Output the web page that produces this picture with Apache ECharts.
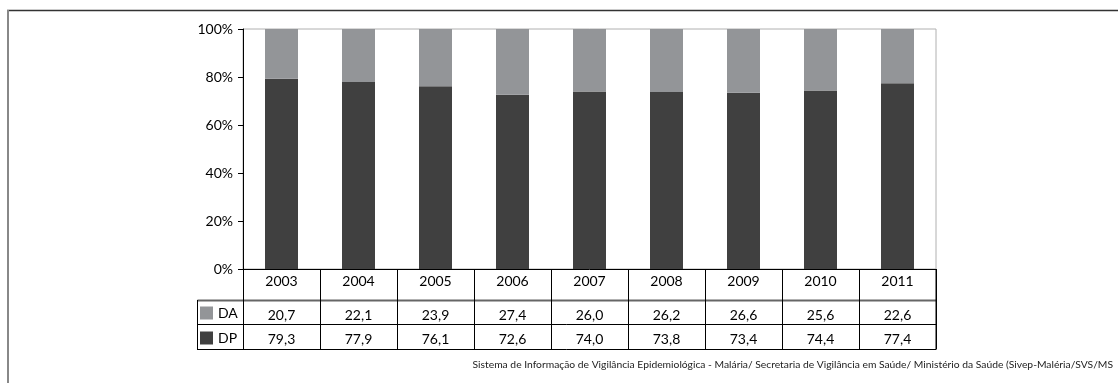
<!DOCTYPE html>
<html>
<head>
<meta charset="utf-8">
<script src="https://cdn.jsdelivr.net/npm/echarts@6/dist/echarts.min.js"></script>
<style>
html,body{margin:0;padding:0;background:#fff;}
#c{width:1118px;height:383px;}
</style>
</head>
<body>
<div id="c"></div>
<script>
var years = ['2003','2004','2005','2006','2007','2008','2009','2010','2011'];
var daValues = [20.7, 22.1, 23.9, 27.4, 26.0, 26.2, 26.6, 25.6, 22.6];
var dpValues = [79.3, 77.9, 76.1, 72.6, 74.0, 73.8, 73.4, 74.4, 77.4];
var yTicks = [0, 20, 40, 60, 80, 100];
var sourceText = 'Sistema de Informação de Vigilância Epidemiológica - Malária/ Secretaria de Vigilância em Saúde/ Ministério da Saúde (Sivep-Maléria/SVS/MS';

var FONT = 'Lato, "Open Sans", sans-serif';
function fmt(v){ return v.toFixed(1).replace('.', ','); }

var chart = echarts.init(document.getElementById('c'), null, {renderer:'canvas'});

function tableAxis(labels, offset, tickLen, margin){
  return {
    type:'category', data: labels, position:'bottom', offset: offset,
    axisLine:{show:false},
    axisTick:{show:true, interval:0, length:tickLen, lineStyle:{color:'#000', width:1}},
    axisLabel:{interval:0, margin:margin, fontFamily:FONT, fontSize:14, color:'#000'},
    splitLine:{show:false}
  };
}

var L = 197.5, R = 936, TOP = 29, Y0 = 269;
chart.setOption({
  animation:false,
  backgroundColor:'#fff',
  title:{
    text: sourceText, right: 5, top: 360, padding:0,
    textStyle:{fontFamily:FONT, fontSize:10.3, fontWeight:'normal', color:'#222'}
  },
  legend:{
    data:['DA','DP'], orient:'vertical', left:200, top:306, itemGap:11, padding:0,
    itemWidth:13, itemHeight:13, icon:'rect', selectedMode:false,
    textStyle:{fontFamily:FONT, fontSize:14, color:'#000'}, itemStyle:{borderWidth:0}
  },
  grid:{left:243, right:1118-R, top:TOP, bottom:383-Y0, show:true, borderColor:'#b0b0b0', borderWidth:1},
  xAxis:[
    {
      type:'category', data: years, position:'bottom',
      axisLine:{show:true, lineStyle:{color:'#000', width:1}},
      axisTick:{show:true, interval:0, length:31, lineStyle:{color:'#000', width:1}},
      axisLabel:{interval:0, margin:5, fontFamily:FONT, fontSize:14, color:'#000'}
    },
    tableAxis(daValues.map(fmt), 31, 24, 8),
    tableAxis(dpValues.map(fmt), 55, 25, 8)
  ],
  yAxis:{
    type:'value', min:0, max:100, interval:20,
    axisLine:{show:true, lineStyle:{color:'#000', width:1}},
    axisTick:{show:true, length:5, lineStyle:{color:'#000'}},
    axisLabel:{margin:10, fontFamily:FONT, fontSize:14, color:'#000', formatter:function(v){ return yTicks.indexOf(v) >= 0 ? v + '%' : ''; }},
    splitLine:{show:false}
  },
  series:[
    {name:'DP', type:'bar', stack:'a', data:dpValues, barWidth:33, itemStyle:{color:'#404040'}},
    {name:'DA', type:'bar', stack:'a', data:daValues, barWidth:33, itemStyle:{color:'#939598'}}
  ],
  graphic:[
    {type:'line', shape:{x1:7, y1:10.5, x2:1118, y2:10.5}, style:{stroke:'#333', lineWidth:1.5}, silent:true},
    {type:'line', shape:{x1:8, y1:10, x2:8, y2:383}, style:{stroke:'#888', lineWidth:2}, silent:true},
    {type:'line', shape:{x1:L, y1:300.5, x2:R, y2:300.5}, style:{stroke:'#666', lineWidth:2}, silent:true},
    {type:'line', shape:{x1:L, y1:324.5, x2:R, y2:324.5}, style:{stroke:'#000', lineWidth:1}, silent:true},
    {type:'line', shape:{x1:L, y1:349.5, x2:R, y2:349.5}, style:{stroke:'#000', lineWidth:1}, silent:true},
    {type:'line', shape:{x1:L, y1:300, x2:L, y2:350}, style:{stroke:'#000', lineWidth:1}, silent:true},
    {type:'line', shape:{x1:R, y1:Y0, x2:R, y2:350}, style:{stroke:'#000', lineWidth:1}, silent:true}
  ]
});
</script>
</body>
</html>
